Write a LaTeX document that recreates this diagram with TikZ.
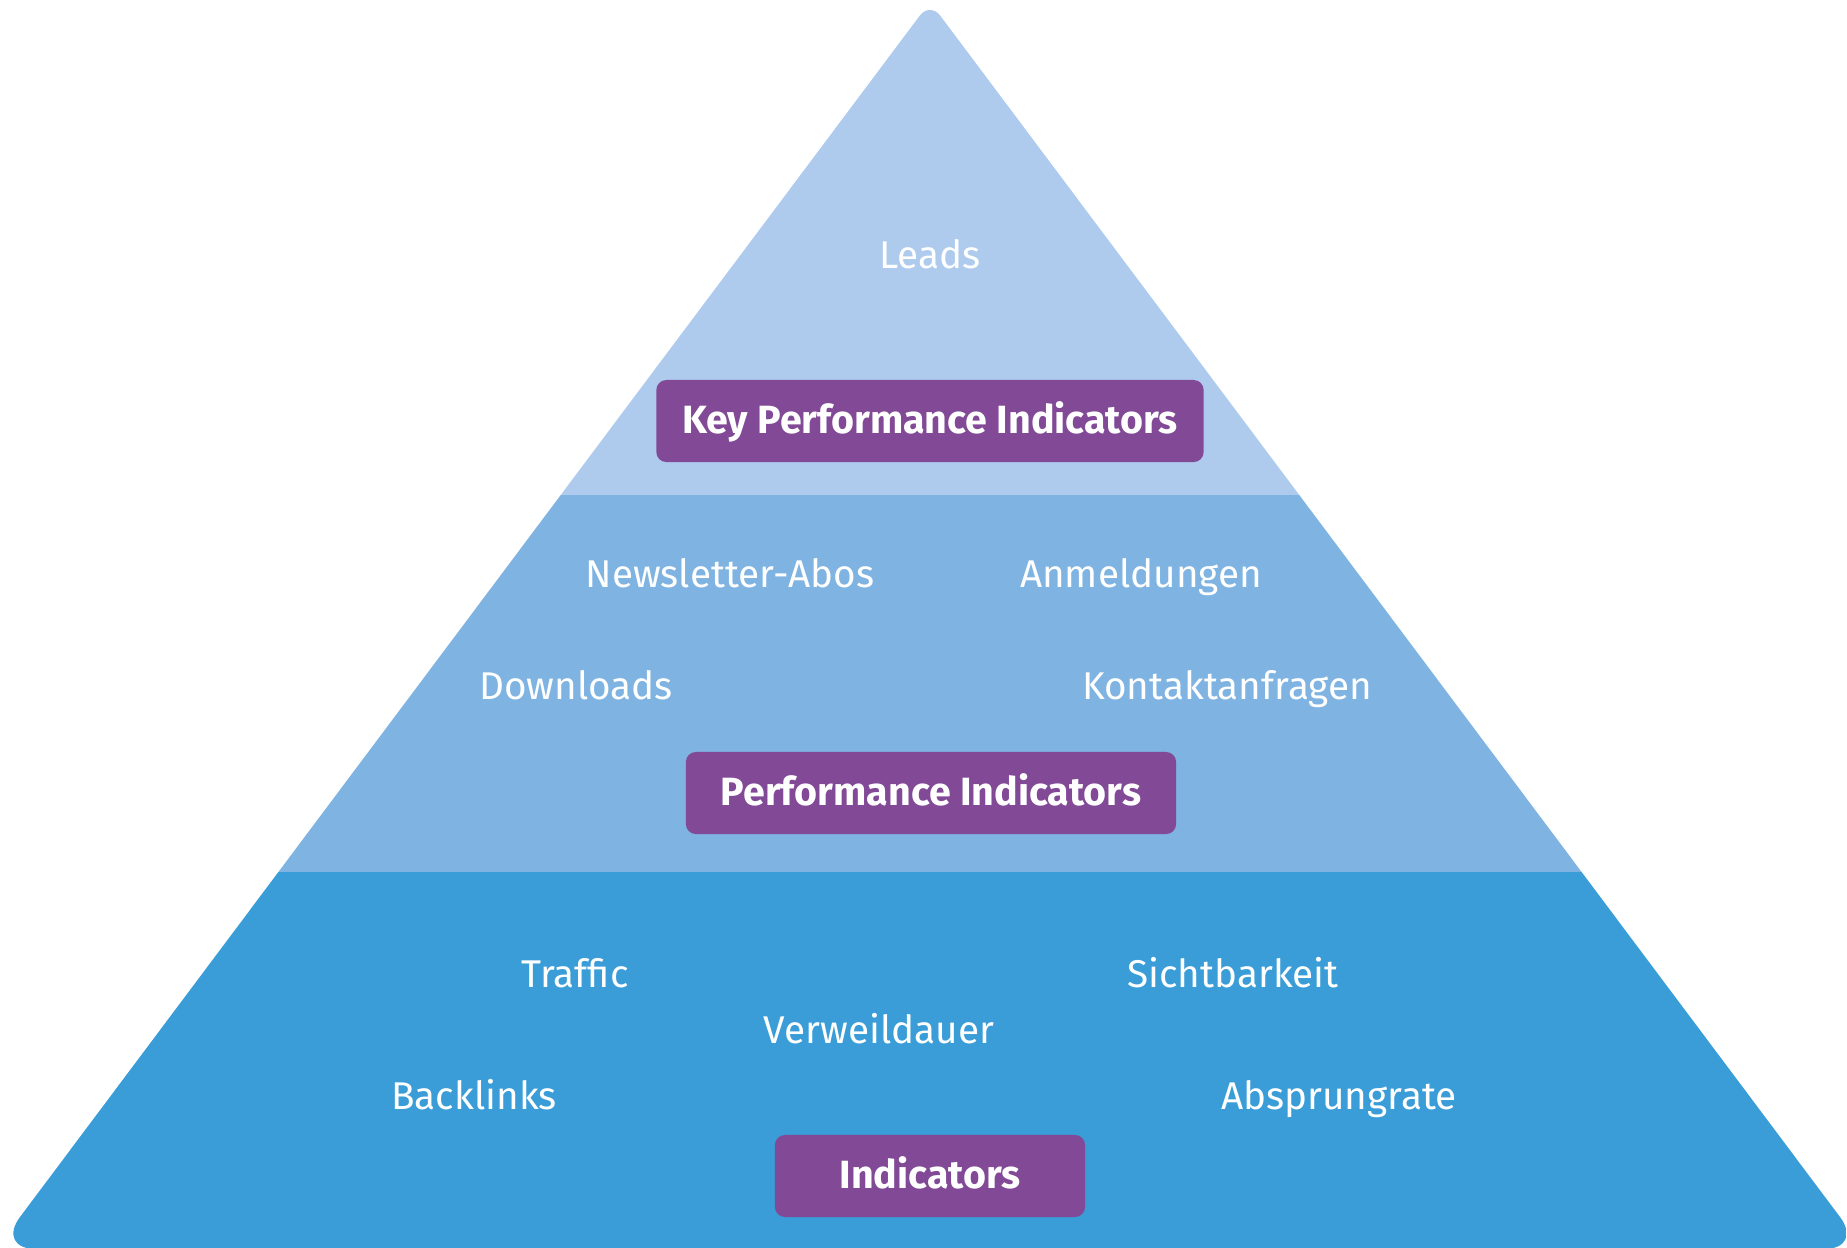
\documentclass[tikz,border=0pt]{standalone}
\usepackage{fontspec}
\setmainfont{Fira Sans}
\definecolor{tierA}{HTML}{AECBEE}
\definecolor{tierB}{HTML}{7FB3E1}
\definecolor{tierC}{HTML}{3A9DD8}
\definecolor{kpi}{HTML}{824A96}
\begin{document}
\begin{tikzpicture}[x=0.01cm,y=-0.01cm,
  lbl/.style={text=white,font=\fontsize{11}{13}\selectfont,inner sep=0pt,text height=0.72em,text depth=0pt},
  tag/.style={fill=kpi,text=white,rounded corners=0.1cm,font=\fontsize{11.2}{13}\selectfont\bfseries,minimum height=0.82cm,inner sep=0pt,text height=0.69em,text depth=0pt}]
\useasboundingbox (0,0) rectangle (1847,1248);
\begin{scope}
\clip (930,1249) -- (1824,1249) .. controls (1846.1,1249) and (1853.3,1234.7) .. (1840,1217)
  -- (940.2,15.6) .. controls (934.6,8.1) and (925.4,8.1) .. (919.8,15.6)
  -- (20,1217) .. controls (6.7,1234.7) and (13.9,1249) .. (36,1249) -- cycle;
\fill[tierA] (-10,-10) rectangle (1860,495);
\fill[tierB] (-10,495) rectangle (1860,872);
\fill[tierC] (-10,872) rectangle (1860,1260);
\end{scope}
\node[tag,minimum width=5.47cm] (kpi) at (930,421) {Key Performance Indicators};
\node[tag,minimum width=4.90cm] (pi) at (931,793) {Performance Indicators};
\node[tag,minimum width=3.10cm] (ind) at (930,1176) {Indicators};
\node[lbl] (leads) at (930,256) {Leads};
\node[lbl] (news) at (730,575) {Newsletter-Abos};
\node[lbl] (anm) at (1141,575) {Anmeldungen};
\node[lbl] (down) at (576,687) {Downloads};
\node[lbl] (kont) at (1227,687) {Kontaktanfragen};
\node[lbl] (traf) at (575,975) {Traffic};
\node[lbl] (sicht) at (1233,975) {Sichtbarkeit};
\node[lbl] (verw) at (879,1031) {Verweildauer};
\node[lbl] (back) at (474,1097) {Backlinks};
\node[lbl] (abs) at (1339,1097) {Absprungrate};
\end{tikzpicture}
\end{document}
